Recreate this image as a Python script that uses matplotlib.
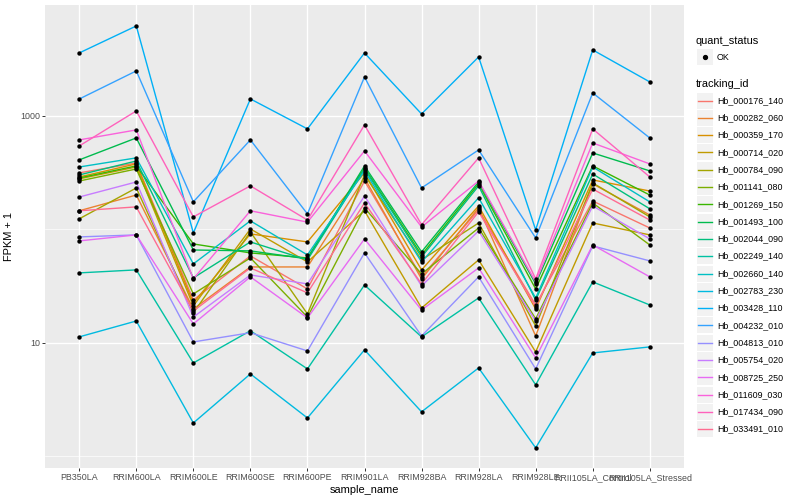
import numpy as np
import matplotlib
matplotlib.use("Agg")
import matplotlib.pyplot as plt
from matplotlib.patches import Rectangle
from matplotlib.ticker import FixedLocator, NullFormatter

plt.rcParams['font.family'] = ['Liberation Sans', 'DejaVu Sans']

samples = ["PB350LA", "RRIM600LA", "RRIM600LE", "RRIM600SE", "RRIM600PE",
           "RRIM901LA", "RRIM928BA", "RRIM928LA", "RRIM928LE",
           "RRII105LA_Control", "RRII105LA_Stressed"]

tracking_ids = ["Hb_000176_140", "Hb_000282_060", "Hb_000359_170", "Hb_000714_020",
                "Hb_000784_090", "Hb_001141_080", "Hb_001269_150", "Hb_001493_100",
                "Hb_002044_090", "Hb_002249_140", "Hb_002660_140", "Hb_002783_230",
                "Hb_003428_110", "Hb_004232_010", "Hb_004813_010", "Hb_005754_020",
                "Hb_008725_250", "Hb_011609_030", "Hb_017434_090", "Hb_033491_010"]

# FPKM + 1, one list per gene, in sample order
hb_000176_140 = [315, 385, 23.9, 58.4, 29.9, 267, 38.2, 149, 21.6, 178, 103]
hb_000282_060 = [146, 201, 19.9, 46.7, 46.7, 284, 36.6, 155, 11.5, 252, 134]
hb_000359_170 = [290, 378, 22.5, 91.3, 77.6, 315, 44.0, 161, 19.9, 273, 218]
hb_000714_020 = [279, 355, 21.2, 101, 51.7, 146, 20.3, 53.9, 8.33, 114, 89.5]
hb_000784_090 = [124, 232, 18.4, 95.1, 18.0, 302, 53.9, 114, 14.1, 257, 129]
hb_001141_080 = [267, 341, 27.0, 56.1, 16.9, 155, 40.5, 103, 16.3, 171, 73.0]
hb_001269_150 = [284, 363, 74.5, 62.1, 56.1, 348, 59.6, 252, 29.9, 363, 201]
hb_001493_100 = [410, 640, 65.9, 64.7, 55.0, 363, 63.4, 262, 33.1, 472, 328]
hb_002044_090 = [302, 401, 37.4, 77.6, 53.9, 341, 57.2, 242, 23.9, 308, 152]
hb_002249_140 = [41.4, 44.0, 6.66, 12.8, 5.90, 32.4, 11.3, 24.9, 4.27, 34.5, 21.6]
hb_002660_140 = [355, 427, 49.7, 119, 59.6, 328, 51.7, 190, 24.9, 355, 175]
hb_002783_230 = [11.3, 15.6, 1.97, 5.33, 2.18, 8.68, 2.47, 6.02, 1.19, 8.16, 9.22]
hb_003428_110 = [3590, 6210, 93.1, 1413, 769, 3590, 1042, 3311, 99.0, 3819, 1995]
hb_004232_010 = [1410, 2494, 175, 615, 137, 2208, 232, 502, 84.1, 1595, 640]
hb_004813_010 = [85.9, 89.5, 10.2, 12.3, 8.50, 62.1, 11.5, 38.2, 5.90, 71.6, 52.8]
hb_005754_020 = [193, 262, 16.9, 39.7, 33.1, 197, 31.8, 97.0, 15.6, 161, 82.5]
hb_008725_250 = [79.2, 89.5, 14.7, 38.2, 16.6, 82.5, 19.5, 45.8, 7.38, 73.0, 38.2]
hb_011609_030 = [615, 753, 36.6, 146, 116, 492, 105, 267, 34.5, 578, 378]
hb_017434_090 = [544, 1107, 129, 242, 121, 834, 110, 427, 36.6, 769, 290]
hb_033491_010 = [146, 158, 19.1, 45.8, 27.6, 171, 33.1, 143, 20.8, 227, 121]

fpkm = [hb_000176_140, hb_000282_060, hb_000359_170, hb_000714_020, hb_000784_090,
        hb_001141_080, hb_001269_150, hb_001493_100, hb_002044_090, hb_002249_140,
        hb_002660_140, hb_002783_230, hb_003428_110, hb_004232_010, hb_004813_010,
        hb_005754_020, hb_008725_250, hb_011609_030, hb_017434_090, hb_033491_010]

# ggplot default hue palette for 20 levels
palette = ["#F8766D", "#EA8331", "#D89000", "#C09B00", "#A3A500", "#7CAE00",
           "#39B600", "#00BB4E", "#00BF7D", "#00C1A3", "#00BFC4", "#00BAE0",
           "#00B0F6", "#35A2FF", "#9590FF", "#C77CFF", "#E76BF3", "#FA62DB",
           "#FF62BC", "#FF6C91"]

fig = plt.figure(figsize=(8, 5), dpi=100)
ax = fig.add_axes([45 / 800, 32 / 500, 639 / 800, 463 / 500])
ax.set_facecolor('#EBEBEB')

x = np.arange(len(samples))
for vals, col in zip(fpkm, palette):
    ax.plot(x, vals, color=col, lw=1.0, zorder=2)
for vals in fpkm:
    ax.scatter(x, vals, s=10, color='black', linewidths=0, zorder=3)

ax.set_yscale('log')
ax.set_ylim(0.79, 9500)
ax.set_xlim(-0.6, len(samples) - 0.4)
ax.yaxis.set_major_locator(FixedLocator([10, 1000]))
ax.set_yticklabels(["10", "1000"])
ax.yaxis.set_minor_locator(FixedLocator([1, 100]))
ax.yaxis.set_minor_formatter(NullFormatter())
ax.set_xticks(x)
ax.set_xticklabels(samples)

ax.grid(which='major', color='white', lw=1.0, zorder=0)
ax.grid(which='minor', axis='y', color='white', lw=0.5, zorder=0)
ax.set_axisbelow(True)
for s in ax.spines.values():
    s.set_visible(False)
ax.tick_params(which='major', length=2.0, width=0.7, color='#333333',
               labelcolor='#4D4D4D', labelsize=6.4, pad=1.6)
ax.tick_params(which='minor', length=0)

ax.set_xlabel("sample_name", fontsize=7.9, labelpad=2)
ax.set_ylabel("FPKM + 1", fontsize=7.9, labelpad=4)

# legend drawn in pixel coordinates
lax = fig.add_axes([684 / 800, 0, 116 / 800, 1])
lax.set_xlim(684, 800)
lax.set_ylim(500, 0)
lax.axis('off')

lax.text(696, 41, "quant_status", fontsize=7.9, va='center', ha='left')
lax.add_patch(Rectangle((697, 49), 16, 16, color='#F2F2F2', lw=0))
lax.plot([705], [57], 'o', color='black', ms=2.8)
lax.text(717, 57, "OK", fontsize=6.4, va='center', ha='left')

lax.text(696, 84, "tracking_id", fontsize=7.9, va='center', ha='left')
for i, (tid, col) in enumerate(zip(tracking_ids, palette)):
    yc = 100.5 + i * 17.3
    lax.add_patch(Rectangle((697, yc - 8), 16, 16, color='#F2F2F2', lw=0))
    lax.plot([698, 712], [yc, yc], color=col, lw=1.0)
    lax.text(717, yc, tid, fontsize=6.4, va='center', ha='left')

fig.savefig("out.png", dpi=100)
